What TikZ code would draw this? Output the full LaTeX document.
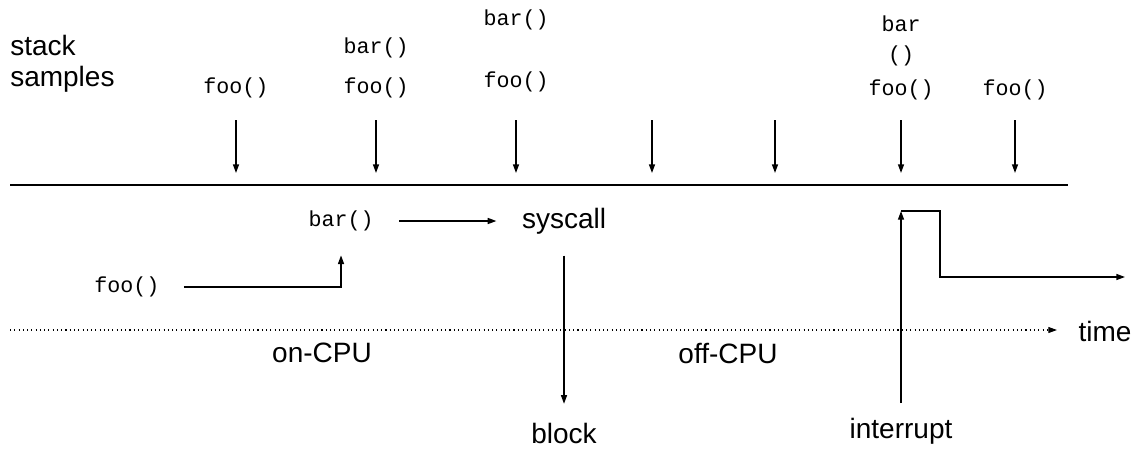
\documentclass[tikz,border=0pt]{standalone}
\usepackage{fontspec}
\setmainfont{Liberation Sans}
\setmonofont{Liberation Mono}
\usetikzlibrary{arrows.meta}

\begin{document}
\begin{tikzpicture}[
    x=0.75pt, y=-0.75pt,
    lbl/.style={font=\fontsize{21}{23}\selectfont, inner sep=0pt},
    code/.style={font=\ttfamily\fontsize{16.25}{22.5}\selectfont, inner sep=0pt},
    arrow/.style={-{Triangle[length=6.5pt,width=4.5pt]}, line width=1pt},
    axis/.style={line width=1.5pt}
]
\useasboundingbox (0,0) rectangle (1134,450);

% Stack samples
\node[lbl, align=left, anchor=west] (title) at (10,64) {stack\\samples};
\node[code] (f1) at (236,88) {foo()};
\node[code] (f2) at (376,88) {foo()};
\node[code] (b2) at (376,48) {bar()};
\node[code] (f3) at (516,82) {foo()};
\node[code] (b3) at (516,20) {bar()};
\node[code, align=center] (b6) at (901,41) {bar\\()};
\node[code] (f6) at (901,90) {foo()};
\node[code] (f7) at (1015,90) {foo()};

% Sample arrows
\foreach \x [count=\i] in {236,376,516,652,775,901,1015} {
    \coordinate (s\i) at (\x,120);
    \coordinate (e\i) at (\x,173);
    \draw[arrow] (s\i) -- (e\i);
}

% Baseline
\coordinate (l0) at (10,185);
\coordinate (l1) at (1068,185);
\draw[axis] (l0) -- (l1);

% Execution path
\node[code] (foo) at (127,287) {foo()};
\node[code] (bar) at (341,221) {bar()};
\node[lbl] (sys) at (564,221) {syscall};
\node[lbl] (block) at (564,433) {block};
\node[lbl] (intr) at (901,431) {interrupt};

\draw[arrow] ([xshift=18pt]foo.east) -| ([yshift=-18pt]bar.south);
\draw[arrow] ([xshift=19pt]bar.east) -- ([xshift=-19pt]sys.west);
\draw[arrow] ([yshift=-16pt]sys.south) -- ([yshift=14pt]block.north);

\coordinate (i1) at (901,211);
\coordinate (i2) at (940,277);
\coordinate (i3) at (1125,277);
\draw[arrow] ([yshift=11pt]intr.north) -- (i1);
\draw[arrow] (i1) -| (i2) -- (i3);

% Time axis
\node[lbl] (time) at (1105,331) {time};
\coordinate (t0) at (10,330);
\draw[arrow, line width=0.8pt, dash pattern=on 0.8pt off 2.4pt] (t0) -- ([xshift=-16pt]time.west |- t0);

\node[lbl] (on) at (322,353) {on-CPU};
\node[lbl] (off) at (728,353) {off-CPU};

\end{tikzpicture}
\end{document}
